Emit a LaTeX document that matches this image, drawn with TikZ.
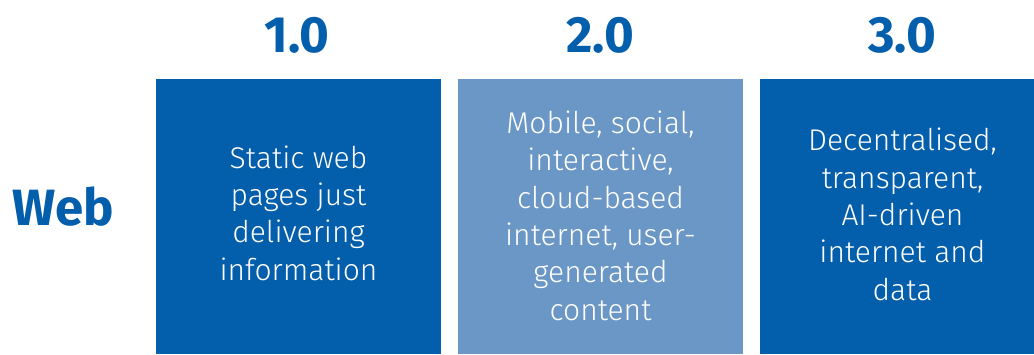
\documentclass[tikz,border=0pt]{standalone}
\usepackage{fontspec}
\setmainfont{Fira Sans}
\newfontfamily\lightfont{Fira Sans Light}
\definecolor{darkblue}{HTML}{035EAB}
\definecolor{lightblue}{HTML}{6B97C6}
\begin{document}
\begin{tikzpicture}[x=1pt,y=-1pt,
  boxshape/.style={draw=none, minimum width=285pt, minimum height=275pt, inner sep=0pt, anchor=north west},
  boxtext/.style={text=white, align=center, anchor=base, inner sep=0pt,
    font=\lightfont\fontsize{30}{37.3}\selectfont},
  header/.style={text=darkblue, anchor=base, inner sep=0pt, font=\fontsize{51}{51}\selectfont\bfseries}]
\useasboundingbox (0,0) rectangle (1034,354);
\clip (0,0) rectangle (1034,354);
\node[boxshape, fill=darkblue] (b1) at (156,79) {};
\node[boxshape, fill=lightblue] (b2) at (458,79) {};
\node[boxshape, fill=darkblue] (b3) at (760,79) {};
\node[header] (h1) at (297,52) {1.0};
\node[header] (h2) at (600,52) {2.0};
\node[header] (h3) at (902,52) {3.0};
\node[header] (web) at (63,225) {Web};
\node[boxtext] (t1) at (298.5,280) {Static web\\pages just\\delivering\\information};
\node[boxtext] (t2) at (600.5,320) {Mobile, social,\\interactive,\\cloud-based\\internet, user-\\generated\\content};
\node[boxtext] (t3) at (902.5,300) {Decentralised,\\transparent,\\AI-driven\\internet and\\data};
\end{tikzpicture}
\end{document}
